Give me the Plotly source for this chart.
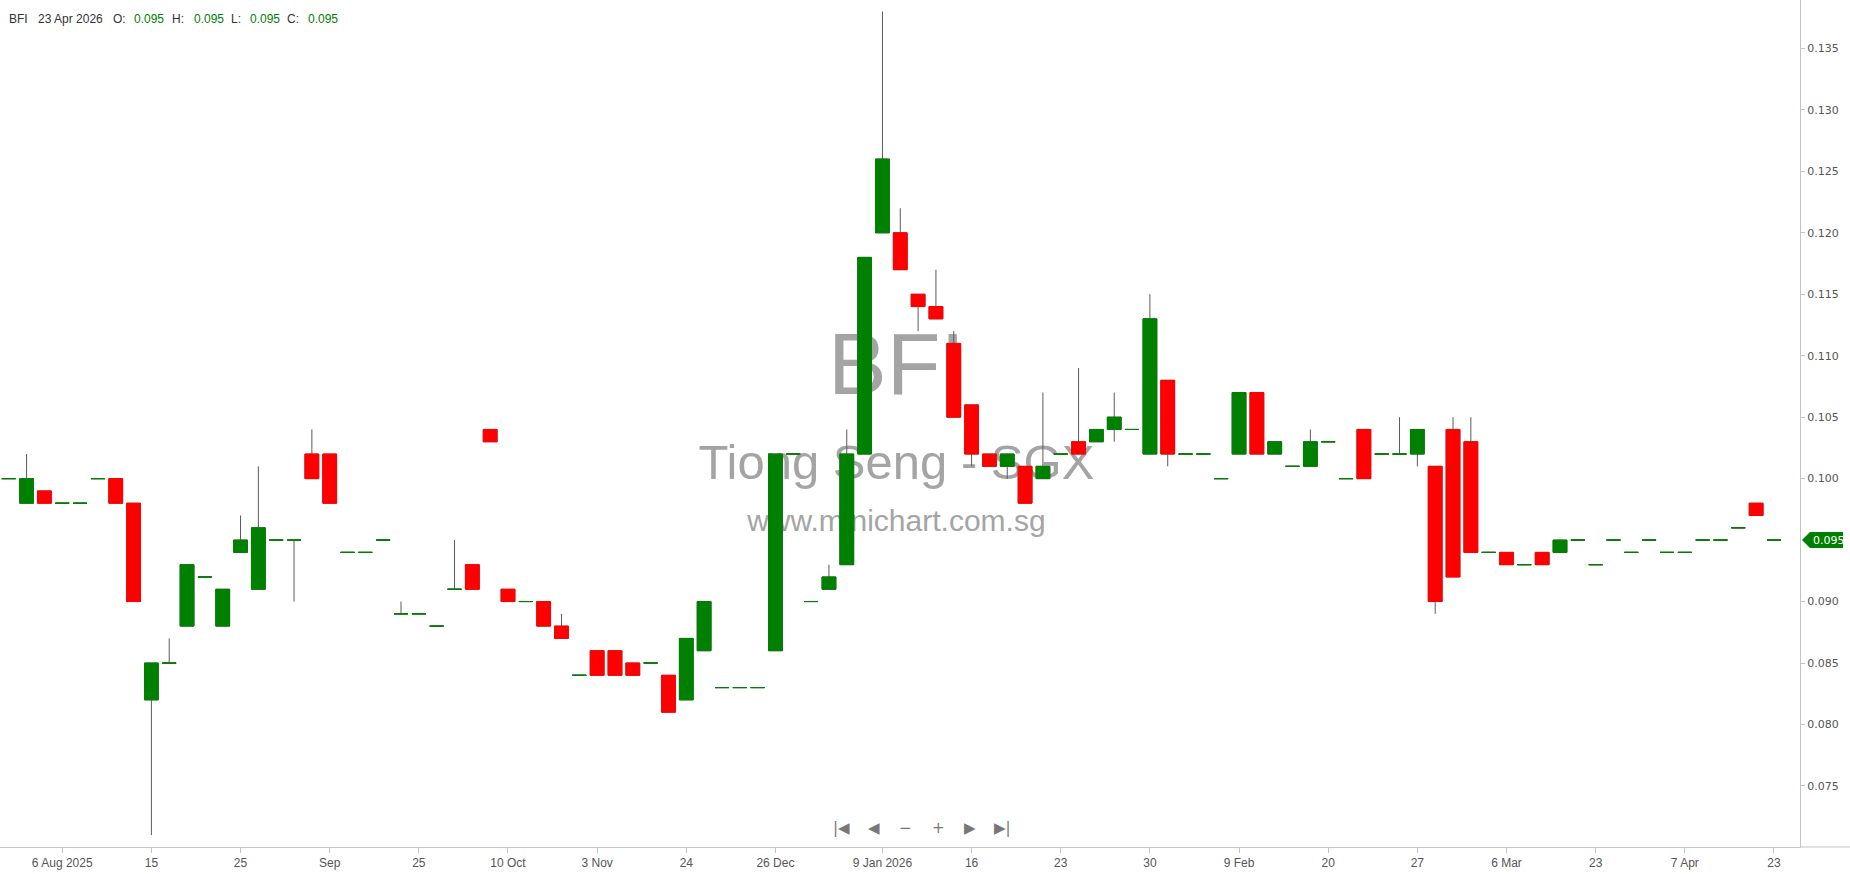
import plotly.graph_objects as go

# ── dados ─────────────────────────────────────────────────────────────────
DATES = [
    "2025-07-29", "2025-07-31", "2025-08-04", "2025-08-06", "2025-08-07",
    "2025-08-08", "2025-08-12", "2025-08-14", "2025-08-15", "2025-08-18",
    "2025-08-19", "2025-08-20", "2025-08-22", "2025-08-25", "2025-08-26",
    "2025-08-27", "2025-08-28", "2025-08-29", "2025-09-01", "2025-09-03",
    "2025-09-08", "2025-09-12", "2025-09-18", "2025-09-25", "2025-09-29",
    "2025-10-01", "2025-10-03", "2025-10-07", "2025-10-10", "2025-10-14",
    "2025-10-16", "2025-10-22", "2025-10-28", "2025-11-03", "2025-11-05",
    "2025-11-11", "2025-11-13", "2025-11-19", "2025-11-24", "2025-11-26",
    "2025-12-02", "2025-12-09", "2025-12-17", "2025-12-26", "2025-12-29",
    "2025-12-31", "2026-01-05", "2026-01-06", "2026-01-08", "2026-01-09",
    "2026-01-12", "2026-01-13", "2026-01-14", "2026-01-15", "2026-01-16",
    "2026-01-19", "2026-01-20", "2026-01-21", "2026-01-22", "2026-01-23",
    "2026-01-26", "2026-01-27", "2026-01-28", "2026-01-29", "2026-01-30",
    "2026-02-02", "2026-02-03", "2026-02-04", "2026-02-06", "2026-02-09",
    "2026-02-10", "2026-02-11", "2026-02-12", "2026-02-13", "2026-02-20",
    "2026-02-23", "2026-02-24", "2026-02-25", "2026-02-26", "2026-02-27",
    "2026-03-02", "2026-03-03", "2026-03-04", "2026-03-05", "2026-03-06",
    "2026-03-10", "2026-03-12", "2026-03-16", "2026-03-18", "2026-03-23",
    "2026-03-25", "2026-03-27", "2026-03-31", "2026-04-02", "2026-04-07",
    "2026-04-09", "2026-04-14", "2026-04-17", "2026-04-21", "2026-04-23",
]

OPEN = [
    .100, .098, .099, .098, .098, .100, .100, .098, .082, .085,
    .088, .092, .088, .094, .091, .095, .095, .102, .102, .094,
    .094, .095, .089, .089, .088, .091, .093, .104, .091, .090,
    .090, .088, .084, .086, .086, .085, .085, .084, .082, .086,
    .083, .083, .083, .086, .102, .090, .091, .093, .102, .120,
    .120, .115, .114, .111, .106, .102, .101, .101, .100, .102,
    .103, .103, .104, .104, .102, .108, .102, .102, .100, .102,
    .107, .102, .101, .101, .103, .100, .104, .102, .102, .102,
    .101, .104, .103, .094, .094, .093, .094, .094, .095, .093,
    .095, .094, .095, .094, .094, .095, .095, .096, .098, .095,
]
HIGH = [
    .100, .102, .099, .098, .098, .100, .100, .098, .085, .087,
    .093, .092, .091, .097, .101, .095, .095, .104, .102, .094,
    .094, .095, .090, .089, .088, .095, .093, .104, .091, .090,
    .090, .089, .084, .086, .086, .085, .085, .084, .087, .090,
    .083, .083, .083, .102, .102, .090, .093, .104, .118, .138,
    .122, .115, .117, .112, .106, .102, .102, .101, .107, .102,
    .109, .104, .107, .104, .115, .108, .102, .102, .100, .107,
    .107, .103, .101, .104, .103, .100, .104, .102, .105, .104,
    .101, .105, .105, .094, .094, .093, .094, .095, .095, .093,
    .095, .094, .095, .094, .094, .095, .095, .096, .098, .095,
]
LOW = [
    .100, .098, .098, .098, .098, .100, .098, .090, .071, .085,
    .088, .092, .088, .094, .091, .095, .090, .100, .098, .094,
    .094, .095, .089, .089, .088, .091, .091, .103, .090, .090,
    .088, .087, .084, .084, .084, .084, .085, .081, .082, .086,
    .083, .083, .083, .086, .102, .090, .091, .093, .102, .120,
    .117, .112, .113, .105, .101, .101, .100, .098, .100, .102,
    .102, .103, .103, .104, .102, .101, .102, .102, .100, .102,
    .102, .102, .101, .101, .103, .100, .100, .102, .102, .101,
    .089, .092, .094, .094, .093, .093, .093, .094, .095, .093,
    .095, .094, .095, .094, .094, .095, .095, .096, .097, .095,
]
CLOSE = [
    .100, .100, .098, .098, .098, .100, .098, .090, .085, .085,
    .093, .092, .091, .095, .096, .095, .095, .100, .098, .094,
    .094, .095, .089, .089, .088, .091, .091, .103, .090, .090,
    .088, .087, .084, .084, .084, .084, .085, .081, .087, .090,
    .083, .083, .083, .102, .102, .090, .092, .102, .118, .126,
    .117, .114, .113, .105, .102, .101, .102, .098, .101, .102,
    .102, .104, .105, .104, .113, .102, .102, .102, .100, .107,
    .102, .103, .101, .103, .103, .100, .100, .102, .102, .104,
    .090, .092, .094, .094, .093, .093, .093, .095, .095, .093,
    .095, .094, .095, .094, .094, .095, .095, .096, .097, .095,
]

TICK_DATES = [
    "2025-08-06", "2025-08-15", "2025-08-25", "2025-09-01", "2025-09-25",
    "2025-10-10", "2025-11-03", "2025-11-24", "2025-12-26", "2026-01-09",
    "2026-01-16", "2026-01-23", "2026-01-30", "2026-02-09", "2026-02-20",
    "2026-02-27", "2026-03-06", "2026-03-23", "2026-04-07", "2026-04-23",
]
TICK_LABELS = [
    "6 Aug 2025", "15", "25", "Sep", "25", "10 Oct", "3 Nov", "24", "26 Dec",
    "9 Jan 2026", "16", "23", "30", "9 Feb", "20", "27", "6 Mar", "23", "7 Apr", "23",
]
PRICE_TICKS = [0.075, 0.080, 0.085, 0.090, 0.095, 0.100, 0.105,
               0.110, 0.115, 0.120, 0.125, 0.130, 0.135]

SYMBOL = "BFI"
HEADER_DATE = "23 Apr 2026"
WATERMARK = ["BFI", "Tiong Seng - SGX", "www.minichart.com.sg"]
NAV_BUTTONS = ["|◀", "◀", "−", "+", "▶", "▶|"]

# ── estilo ────────────────────────────────────────────────────────────────
COR_ALTA = "#008000"
COR_BAIXA = "#ff0000"
COR_PAVIO = "#5a5a5a"
COR_EIXO = "#c4c4c4"
COR_TEXTO = "#555555"
FONTE_TEXTO = "Liberation Sans, Arial, sans-serif"
LARG_PLOT = 1800.0  # px da área do gráfico
ALT_PLOT = 847.0


def px_x(px):
    return px / LARG_PLOT


def px_y(px):
    return 1 - px / ALT_PLOT


def corpo(indices, cor):
    """Corpos das velas (sem pavio), numa só cor."""
    return go.Candlestick(
        x=[DATES[i] for i in indices],
        open=[OPEN[i] for i in indices], close=[CLOSE[i] for i in indices],
        high=[max(OPEN[i], CLOSE[i]) for i in indices],
        low=[min(OPEN[i], CLOSE[i]) for i in indices],
        increasing=dict(line=dict(color=cor, width=1), fillcolor=cor),
        decreasing=dict(line=dict(color=cor, width=1), fillcolor=cor),
        xaxis="x2", yaxis="y2", showlegend=False, hoverinfo="skip",
    )


fig = go.Figure()

# marca d'água no eixo de base (fica por baixo das velas)
fig.add_scatter(
    x=[0.498, 0.498, 0.498], y=[px_y(372), px_y(467), px_y(523)],
    mode="text", text=WATERMARK,
    textfont=dict(size=[88, 49, 30], color="#a4a4a4", family="Liberation Sans, Arial"),
    xaxis="x", yaxis="y", hoverinfo="skip", showlegend=False,
)

# pavios (todas as velas em cinza) + corpos coloridos por cima
fig.add_trace(go.Candlestick(
    x=DATES, open=OPEN, high=HIGH, low=LOW, close=CLOSE,
    increasing=dict(line=dict(color=COR_PAVIO, width=1), fillcolor=COR_PAVIO),
    decreasing=dict(line=dict(color=COR_PAVIO, width=1), fillcolor=COR_PAVIO),
    xaxis="x2", yaxis="y2", showlegend=False, name=SYMBOL,
))
sobe = [i for i in range(len(DATES)) if CLOSE[i] >= OPEN[i]]
desce = [i for i in range(len(DATES)) if CLOSE[i] < OPEN[i]]
fig.add_trace(corpo(sobe, COR_ALTA))
fig.add_trace(corpo(desce, COR_BAIXA))

ultimo = CLOSE[-1]
# o rótulo do último preço cobre o tick correspondente
ticks_y = [v for v in PRICE_TICKS if abs(v - ultimo) > 1e-9]

fig.update_layout(
    width=1850, height=874,
    margin=dict(l=0, r=50, t=0, b=27),
    paper_bgcolor="white", plot_bgcolor="white",
    boxgap=0.12, boxgroupgap=0.12,
    xaxis=dict(domain=[0, 1], range=[0, 1], visible=False, fixedrange=True),
    yaxis=dict(domain=[0, 1], range=[0, 1], visible=False, fixedrange=True),
    xaxis2=dict(
        overlaying="x", anchor="y2", type="category",
        categoryorder="array", categoryarray=DATES,
        range=[-0.49, len(DATES) + 0.46],
        tickmode="array", tickvals=TICK_DATES, ticktext=TICK_LABELS,
        ticks="outside", ticklen=5, tickcolor=COR_EIXO,
        showline=True, linecolor=COR_EIXO, linewidth=1,
        showgrid=False, zeroline=False, automargin=False,
        rangeslider=dict(visible=False),
        tickfont=dict(family=FONTE_TEXTO, size=12, color=COR_TEXTO),
    ),
    yaxis2=dict(
        overlaying="y", anchor="x2", side="right",
        range=[0.07003, 0.13894], tickmode="array", tickvals=ticks_y,
        tickformat=".3f",
        ticks="outside", ticklen=4, tickcolor=COR_EIXO,
        showline=True, linecolor=COR_EIXO, linewidth=1,
        showgrid=False, zeroline=False, automargin=False,
        tickfont=dict(family="DejaVu Sans", size=11, color=COR_TEXTO),
    ),
    hovermode="x",
)

# linha do eixo x prolongada até a borda direita
fig.add_shape(type="line", xref="paper", yref="paper", x0=1, x1=1850 / LARG_PLOT,
              y0=0, y1=0, line=dict(color=COR_EIXO, width=1))

# etiqueta do último preço
fig.add_shape(type="path", xref="paper", yref="y2", xsizemode="pixel", ysizemode="pixel",
              xanchor=1, yanchor=ultimo, path="M 2,0 L 10,8 L 43,8 L 43,-8 L 10,-8 Z",
              fillcolor=COR_ALTA, line=dict(width=0))
fig.add_annotation(x=px_x(1811), xref="paper", y=ultimo, yref="y2", xanchor="left",
                   text=f"{ultimo:.3f}", showarrow=False,
                   font=dict(family="DejaVu Sans", size=11, color="white"))

# cabeçalho O/H/L/C
partes = [
    (SYMBOL, 6.7, "#333333"), (HEADER_DATE, 36.4, "#333333"),
    ("O:", 110.7, "#333333"), (f"{OPEN[-1]:.3f}", 132.4, COR_ALTA),
    ("H:", 170, "#333333"), (f"{HIGH[-1]:.3f}", 191.7, COR_ALTA),
    ("L:", 229, "#333333"), (f"{LOW[-1]:.3f}", 248, COR_ALTA),
    ("C:", 285, "#333333"), (f"{CLOSE[-1]:.3f}", 305.5, COR_ALTA),
]
for texto, x, cor in partes:
    fig.add_annotation(x=px_x(x), y=px_y(19), xref="paper", yref="paper",
                       xanchor="left", yanchor="middle", text=texto, showarrow=False,
                       font=dict(family=FONTE_TEXTO, size=12, color=cor))

# botões de navegação
for texto, x in zip(NAV_BUTTONS, [841, 874, 905, 938, 970, 1002]):
    fig.add_annotation(x=px_x(x), y=px_y(839), xref="paper", yref="paper",
                       text=texto, showarrow=False,
                       font=dict(family="DejaVu Sans", size=15, color="#777777"))

# sem margem do <body>, para a figura ocupar exatamente a janela
fig.write_html("out.html", config={"displayModeBar": False},
               post_script="document.body.style.margin='0';")
